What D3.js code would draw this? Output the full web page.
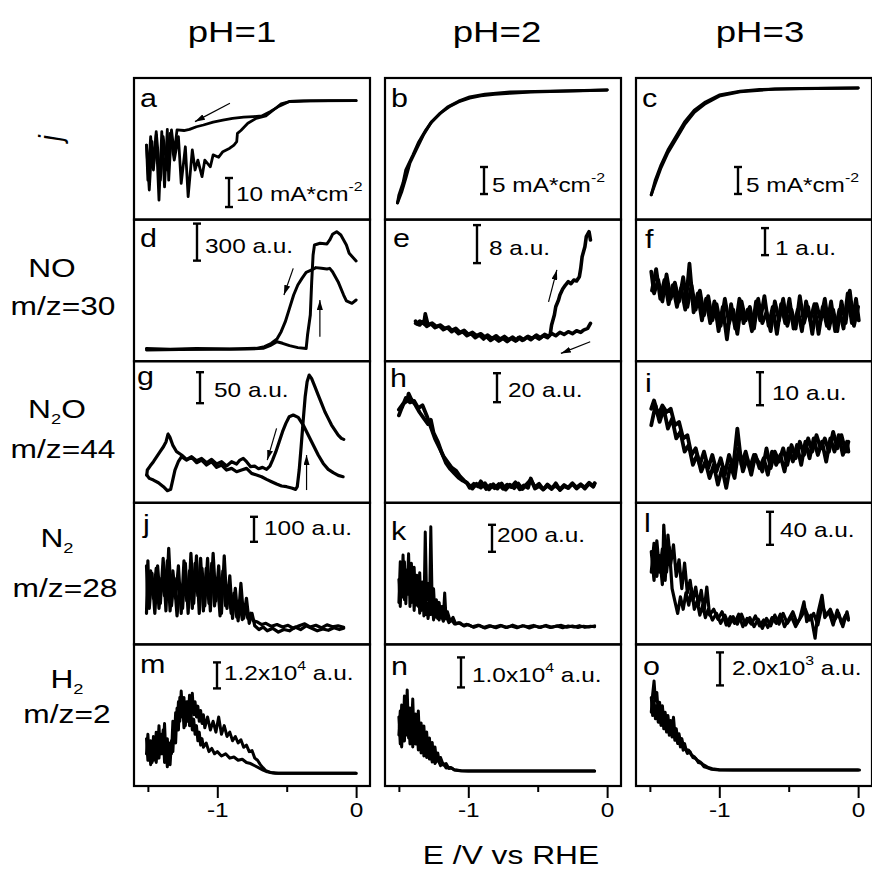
<!DOCTYPE html>
<html><head><meta charset="utf-8">
<script src="https://cdn.jsdelivr.net/npm/d3@7"></script>
<style>html,body{margin:0;padding:0;background:#fff;}svg{display:block;}</style>
</head><body><svg id="chart" width="872" height="870"></svg>
<script>
// ---------------- DATA ----------------
const columnTitles = ["pH=1", "pH=2", "pH=3"];
const rowSpecies = [["NO", ""], ["N", "2", "O"], ["N", "2", ""], ["H", "2", ""]];
const rowMz = ["m/z=30", "m/z=44", "m/z=28", "m/z=2"];
const xTickMajor = [-1, 0];
const xTickMinor = [-1.5, -0.5];
const xTitle = "E /V vs RHE";

// panel a : j (mA cm-2), pH 1
const a_cath = [[0,0],[-0.19,0],[-0.38,-0.1],[-0.48,-0.3],[-0.55,-1.8],[-0.62,-3.8],[-0.68,-5.3],[-0.74,-5.5],[-0.81,-5.7],[-0.89,-6.1],[-0.96,-6.7],[-1.03,-7.4],[-1.10,-8.4],[-1.15,-9.0],[-1.20,-9.9],[-1.24,-10.3],[-1.29,-10.1],[-1.31,-18.2],[-1.33,-10.1],[-1.35,-27.4],[-1.36,-9.9],[-1.38,-29.7],[-1.40,-10.7],[-1.42,-34.3],[-1.44,-11.8],[-1.46,-23.9],[-1.47,-14.1],[-1.49,-30.8],[-1.51,-15.3]];
const a_anod = [[-1.51,-15.3],[-1.50,-27.4],[-1.48,-12.4],[-1.46,-22.8],[-1.44,-10.7],[-1.41,-27.4],[-1.39,-12.4],[-1.36,-23.9],[-1.34,-11.3],[-1.31,-20.5],[-1.28,-12.4],[-1.26,-28.5],[-1.23,-15.9],[-1.21,-33.1],[-1.18,-17.0],[-1.16,-23.9],[-1.14,-20.5],[-1.11,-26.2],[-1.09,-20.5],[-1.05,-22.8],[-1.03,-18.7],[-0.99,-19.5],[-0.96,-17.6],[-0.91,-16.4],[-0.88,-15.3],[-0.86,-14.1],[-0.855,-11.3],[-0.83,-10.3],[-0.78,-7.8],[-0.72,-6.1],[-0.65,-5.3],[-0.60,-3.4],[-0.54,-1.1],[-0.48,-0.3],[-0.33,-0.1],[0,0]];
// panel b : j, pH 2
const b_cath = [[0,0.2],[-0.12,0.1],[-0.27,0],[-0.41,-0.1],[-0.55,-0.2],[-0.70,-0.4],[-0.81,-0.6],[-0.91,-0.9],[-0.99,-1.3],[-1.06,-1.9],[-1.13,-2.8],[-1.20,-4.1],[-1.26,-5.6],[-1.31,-7.4],[-1.36,-9.6],[-1.40,-11.9],[-1.45,-14.6],[-1.47,-17.0],[-1.50,-19.3],[-1.51,-20.7]];
const b_anod = [[-1.51,-20.7],[-1.48,-18.7],[-1.45,-16.1],[-1.42,-13.3],[-1.37,-10.6],[-1.32,-8.0],[-1.27,-5.9],[-1.21,-4.3],[-1.15,-3.0],[-1.07,-1.9],[-0.99,-1.1],[-0.88,-0.6],[-0.70,-0.2],[-0.34,0],[0,0.2]];
// panel c : j, pH 3
const c_cath = [[0,0],[-0.42,-0.1],[-0.71,-0.3],[-0.85,-0.6],[-1.00,-1.3],[-1.10,-2.6],[-1.18,-4.1],[-1.25,-6.3],[-1.31,-8.9],[-1.37,-11.5],[-1.42,-14.3],[-1.46,-17.0],[-1.49,-19.8]];
const c_anod = [[-1.49,-19.8],[-1.46,-17.6],[-1.42,-14.8],[-1.37,-12.0],[-1.31,-9.4],[-1.25,-6.8],[-1.18,-4.5],[-1.10,-2.9],[-1.00,-1.5],[-0.85,-0.7],[-0.60,-0.2],[0,0]];
// panel d : NO m/z=30, pH 1 (a.u.)
const d_cath = [[0,397],[-0.03,370],[-0.07,389],[-0.09,437],[-0.13,545],[-0.17,626],[-0.19,653],[-0.21,648],[-0.25,653],[-0.29,659],[-0.32,640],[-0.36,621],[-0.39,572],[-0.42,518],[-0.45,437],[-0.48,329],[-0.51,221],[-0.54,140],[-0.57,81],[-0.61,46],[-0.66,19],[-0.72,5],[-0.91,0],[-1.15,3],[-1.34,-3],[-1.51,3]];
const d_anod = [[-1.51,-8],[-1.27,-5],[-1.03,-3],[-0.79,0],[-0.67,5],[-0.62,27],[-0.57,59],[-0.53,46],[-0.48,27],[-0.42,11],[-0.36,3],[-0.35,113],[-0.33,275],[-0.32,545],[-0.31,761],[-0.30,842],[-0.26,856],[-0.21,851],[-0.19,883],[-0.17,929],[-0.14,950],[-0.11,923],[-0.07,842],[-0.05,775],[0,713]];
// panel e : NO, pH 2
const e_cath = [[-0.12,2.46],[-0.14,1.40],[-0.17,1.05],[-0.19,0.56],[-0.22,0.91],[-0.25,0.28],[-0.28,0.70],[-0.31,0.14],[-0.34,0.56],[-0.37,-0.14],[-0.40,0.35],[-0.42,-0.28],[-0.45,0.14],[-0.48,-0.56],[-0.51,0],[-0.54,-0.70],[-0.57,-0.28],[-0.60,-0.98],[-0.63,-0.42],[-0.65,-1.12],[-0.68,-0.42],[-0.71,-0.98],[-0.74,-0.28],[-0.77,-0.84],[-0.80,-0.14],[-0.83,-0.70],[-0.86,0],[-0.88,-0.42],[-0.91,0.28],[-0.94,-0.14],[-0.97,0.56],[-1.00,0.14],[-1.03,0.98],[-1.06,0.56],[-1.09,1.40],[-1.12,0.98],[-1.14,1.68],[-1.17,1.40],[-1.20,2.11],[-1.23,1.82],[-1.26,2.53],[-1.29,2.11],[-1.31,4.49],[-1.32,2.39],[-1.35,2.95],[-1.37,2.39],[-1.38,2.95]];
const e_anod = [[-1.38,2.46],[-1.35,2.11],[-1.33,2.81],[-1.30,1.82],[-1.27,2.39],[-1.24,1.54],[-1.21,1.96],[-1.18,1.12],[-1.15,1.54],[-1.12,0.70],[-1.10,1.12],[-1.07,0.28],[-1.04,0.70],[-1.01,-0.14],[-0.98,0.28],[-0.95,-0.56],[-0.92,0],[-0.89,-0.84],[-0.87,-0.28],[-0.84,-1.12],[-0.81,-0.56],[-0.78,-1.26],[-0.75,-0.70],[-0.72,-1.40],[-0.69,-0.70],[-0.66,-1.26],[-0.64,-0.56],[-0.61,-1.12],[-0.58,-0.42],[-0.55,-0.98],[-0.52,-0.28],[-0.49,-0.84],[-0.46,-0.14],[-0.43,-0.56],[-0.41,0.14],[-0.40,2.11],[-0.38,4.21],[-0.37,5.96],[-0.35,7.37],[-0.34,8.42],[-0.32,9.68],[-0.30,10.53],[-0.28,11.23],[-0.26,10.81],[-0.24,11.58],[-0.22,11.37],[-0.20,12.28],[-0.19,14.04],[-0.18,16.49],[-0.16,18.60],[-0.15,20.70],[-0.13,21.75],[-0.12,20.00]];
// panel f : NO, pH 3
const f_cath = [[0,0.3],[-0.03,-0.4],[-0.06,0.9],[-0.09,-0.3],[-0.12,0.5],[-0.15,-0.6],[-0.18,0.2],[-0.21,-0.5],[-0.24,0.6],[-0.27,-0.2],[-0.30,0.4],[-0.33,-0.7],[-0.36,0.3],[-0.39,-0.3],[-0.42,0.7],[-0.45,-0.5],[-0.48,0.2],[-0.51,-0.4],[-0.54,0.6],[-0.57,-0.2],[-0.60,0.5],[-0.63,-0.6],[-0.66,0.1],[-0.69,-0.3],[-0.72,0.6],[-0.75,-0.5],[-0.78,0.3],[-0.81,-0.2],[-0.84,0.5],[-0.87,-0.7],[-0.90,0.2],[-0.93,-0.3],[-0.96,0.6],[-0.99,-0.4],[-1.02,0.4],[-1.05,-0.2],[-1.08,0.7],[-1.11,0.0],[-1.14,0.9],[-1.17,0.2],[-1.20,1.1],[-1.23,0.3],[-1.26,1.4],[-1.29,0.5],[-1.32,1.2],[-1.35,0.6],[-1.38,1.5],[-1.41,0.5],[-1.44,1.3],[-1.47,0.8],[-1.49,1.6]];
const f_anod = [[-1.485,0.9],[-1.455,1.7],[-1.425,0.6],[-1.395,1.3],[-1.365,0.4],[-1.335,1.1],[-1.305,0.3],[-1.275,1.0],[-1.245,0.2],[-1.215,1.9],[-1.185,0.1],[-1.155,0.8],[-1.125,-0.2],[-1.095,0.6],[-1.065,-0.3],[-1.035,0.5],[-1.005,-0.6],[-0.975,0.3],[-0.945,-0.9],[-0.915,0.4],[-0.885,-0.5],[-0.855,0.6],[-0.825,-0.3],[-0.795,0.2],[-0.765,-0.6],[-0.735,0.5],[-0.705,-0.2],[-0.675,0.7],[-0.645,-0.4],[-0.615,0.3],[-0.585,-0.7],[-0.555,0.4],[-0.525,-0.3],[-0.495,0.6],[-0.465,-0.5],[-0.435,0.2],[-0.405,-0.6],[-0.375,0.5],[-0.345,-0.2],[-0.315,0.4],[-0.285,-0.7],[-0.255,0.3],[-0.225,-0.4],[-0.195,0.5],[-0.165,-0.6],[-0.135,0.2],[-0.105,-0.5],[-0.075,0.8],[-0.045,-0.3],[-0.015,0.6],[0.005,-0.2]];
// panel g : N2O m/z=44, pH 1
const g_cath = [[-0.094,21.5],[-0.129,23.7],[-0.165,28.0],[-0.201,33.4],[-0.237,43.0],[-0.273,56.5],[-0.309,72.6],[-0.345,88.8],[-0.381,104.9],[-0.417,117.3],[-0.453,121.1],[-0.482,118.4],[-0.506,107.6],[-0.530,94.2],[-0.554,78.0],[-0.578,61.9],[-0.602,48.4],[-0.621,38.7],[-0.645,33.4],[-0.674,36.6],[-0.703,34.4],[-0.731,38.7],[-0.760,37.7],[-0.789,45.7],[-0.813,51.1],[-0.837,48.4],[-0.861,42.0],[-0.897,45.7],[-0.933,38.7],[-0.969,45.7],[-1.005,42.0],[-1.041,49.5],[-1.077,44.1],[-1.113,51.1],[-1.149,47.3],[-1.185,53.8],[-1.221,49.5],[-1.257,56.5],[-1.293,61.9],[-1.321,72.6],[-1.341,85.0],[-1.355,90.4],[-1.369,78.0],[-1.388,69.9],[-1.412,61.9],[-1.436,53.8],[-1.460,45.7],[-1.484,38.7],[-1.504,32.3],[-1.508,24.2]];
const g_anod = [[-1.508,24.2],[-1.489,18.8],[-1.460,16.1],[-1.424,11.8],[-1.388,5.4],[-1.360,-1.1],[-1.336,1.1],[-1.321,16.1],[-1.305,32.3],[-1.281,45.7],[-1.257,53.8],[-1.221,48.4],[-1.185,52.7],[-1.149,44.1],[-1.113,48.4],[-1.077,40.4],[-1.041,45.7],[-1.005,36.6],[-0.969,40.4],[-0.933,32.3],[-0.897,35.0],[-0.861,29.6],[-0.825,32.3],[-0.789,35.0],[-0.753,26.9],[-0.717,24.2],[-0.681,21.5],[-0.645,17.2],[-0.609,13.5],[-0.573,9.7],[-0.537,6.5],[-0.501,5.4],[-0.465,3.2],[-0.436,1.1],[-0.424,5.4],[-0.410,32.3],[-0.396,69.9],[-0.381,113.0],[-0.367,150.6],[-0.353,174.9],[-0.338,185.6],[-0.321,180.2],[-0.297,166.8],[-0.273,153.3],[-0.249,139.9],[-0.225,126.4],[-0.201,115.7],[-0.177,104.9],[-0.153,96.8],[-0.129,88.8],[-0.106,83.4],[-0.089,81.8]];
// panel h : N2O, pH 2
const h_cath = [[-1.50,52],[-1.47,56],[-1.44,58],[-1.43,63],[-1.41,59],[-1.38,55],[-1.35,50],[-1.32,46],[-1.29,42],[-1.27,45],[-1.25,36],[-1.22,30],[-1.19,22],[-1.16,15],[-1.13,11],[-1.10,8],[-1.07,5],[-1.04,3],[-1.01,1.5],[-0.99,-2.0],[-0.96,0.8],[-0.93,-1.0],[-0.91,2.5],[-0.87,-2.8],[-0.84,0.0],[-0.81,-2.2],[-0.78,0.6],[-0.75,-2.6],[-0.72,0.2],[-0.69,-1.5],[-0.66,1.8],[-0.63,-3.0],[-0.60,-0.3],[-0.57,-2.0],[-0.55,4.5],[-0.52,-2.5],[-0.49,-0.8],[-0.46,-3.2],[-0.43,0.3],[-0.40,-2.2],[-0.37,-0.5],[-0.34,-3.0],[-0.31,0.0],[-0.28,-2.0],[-0.25,1.2],[-0.22,-1.8],[-0.19,0.5],[-0.16,-2.5],[-0.13,1.0],[-0.10,-1.2],[-0.09,1.0]];
const h_anod = [[-1.50,48],[-1.48,53],[-1.45,60],[-1.42,57],[-1.39,58],[-1.36,53],[-1.33,55],[-1.30,48],[-1.27,40],[-1.24,32],[-1.21,26],[-1.18,20],[-1.15,16],[-1.12,12],[-1.09,10],[-1.06,6],[-1.03,3],[-1.00,0.5],[-0.97,-2.5],[-0.94,0.8],[-0.91,-1.8],[-0.88,1.2],[-0.85,-3.0],[-0.82,0.5],[-0.79,-2.5],[-0.76,1.0],[-0.73,-3.2],[-0.70,0.2],[-0.67,-2.2],[-0.64,1.0],[-0.61,-2.8],[-0.58,0.4],[-0.55,3.5],[-0.52,-1.5],[-0.49,0.8],[-0.46,-3.0],[-0.43,-0.5],[-0.40,-2.8],[-0.37,1.2],[-0.34,-3.5],[-0.31,-0.8],[-0.28,-2.0],[-0.25,0.9],[-0.22,-2.5],[-0.19,0.0],[-0.16,-1.6],[-0.13,1.5],[-0.10,-0.8],[-0.09,1.2]];
// panel i : N2O, pH 3
const i_cath = [[-1.49,9],[-1.46,15],[-1.43,10],[-1.40,14],[-1.37,8],[-1.34,11],[-1.31,5],[-1.28,7],[-1.25,1],[-1.22,3],[-1.19,-3],[-1.16,0],[-1.13,-5],[-1.10,-2],[-1.07,-7],[-1.04,-3],[-1.01,-9],[-0.98,-4],[-0.95,-10],[-0.92,-3],[-0.89,-7],[-0.86,2],[-0.83,-5],[-0.80,-1],[-0.77,-6],[-0.74,0],[-0.71,-4],[-0.68,-1],[-0.65,-6],[-0.62,1],[-0.59,-3],[-0.56,0],[-0.53,-5],[-0.50,2],[-0.47,-2],[-0.44,3],[-0.41,-3],[-0.38,4],[-0.35,-1],[-0.32,5],[-0.29,0],[-0.26,4],[-0.23,-2],[-0.20,5],[-0.17,1],[-0.14,6],[-0.11,0],[-0.08,4],[-0.07,1]];
const i_anod = [[-1.49,14],[-1.47,16.5],[-1.44,12],[-1.41,15],[-1.38,13],[-1.35,14],[-1.32,9],[-1.29,10],[-1.26,5],[-1.23,6],[-1.20,0],[-1.17,2],[-1.14,-3],[-1.11,1],[-1.08,-4],[-1.05,0],[-1.02,-5],[-0.99,-1],[-0.96,-6],[-0.93,0],[-0.90,-4],[-0.87,8],[-0.84,-3],[-0.81,1],[-0.78,-4],[-0.75,0],[-0.72,-2],[-0.69,-5],[-0.66,2],[-0.63,-4],[-0.60,1],[-0.57,-2],[-0.54,2],[-0.51,-3],[-0.48,3],[-0.45,-1],[-0.42,4],[-0.39,0],[-0.36,5],[-0.33,1],[-0.30,6],[-0.27,2],[-0.24,5],[-0.21,1],[-0.18,7],[-0.15,2],[-0.12,6],[-0.09,1],[-0.07,4]];
// panel j : N2 m/z=28, pH 1
const j_cath = [[-1.51,60],[-1.50,270],[-1.49,80],[-1.47,220],[-1.45,60],[-1.43,250],[-1.41,100],[-1.39,280],[-1.37,70],[-1.35,320],[-1.33,90],[-1.31,200],[-1.29,50],[-1.27,180],[-1.25,80],[-1.23,260],[-1.21,60],[-1.19,300],[-1.17,100],[-1.15,290],[-1.13,60],[-1.11,240],[-1.09,90],[-1.07,280],[-1.05,70],[-1.03,300],[-1.01,110],[-0.99,250],[-0.97,60],[-0.95,290],[-0.93,80],[-0.91,210],[-0.89,40],[-0.87,160],[-0.85,30],[-0.83,180],[-0.81,40],[-0.79,120],[-0.77,20],[-0.75,60],[-0.73,10],[-0.70,-5],[-0.67,5],[-0.64,-10],[-0.60,0],[-0.56,-15],[-0.52,-5],[-0.48,-10],[-0.44,5],[-0.40,-5],[-0.36,10],[-0.32,0],[-0.28,-10],[-0.24,-3],[-0.20,-8],[-0.16,2],[-0.12,-5],[-0.09,0]];
const j_anod = [[-1.51,250],[-1.50,100],[-1.48,230],[-1.46,120],[-1.44,240],[-1.42,80],[-1.40,200],[-1.38,130],[-1.36,270],[-1.34,70],[-1.32,230],[-1.30,120],[-1.28,250],[-1.26,60],[-1.24,270],[-1.22,110],[-1.20,230],[-1.18,80],[-1.16,260],[-1.14,130],[-1.12,280],[-1.10,70],[-1.08,240],[-1.06,100],[-1.04,260],[-1.02,90],[-1.00,200],[-0.98,50],[-0.96,230],[-0.94,90],[-0.92,170],[-0.90,60],[-0.88,140],[-0.86,45],[-0.84,110],[-0.82,35],[-0.80,80],[-0.78,40],[-0.76,60],[-0.74,30],[-0.71,25],[-0.68,15],[-0.65,20],[-0.61,8],[-0.57,15],[-0.53,5],[-0.49,12],[-0.45,0],[-0.41,10],[-0.37,18],[-0.33,5],[-0.29,12],[-0.25,2],[-0.21,14],[-0.17,6],[-0.13,10],[-0.09,4]];
// panel k : N2, pH 2
const k_cath = [[-1.50,180],[-1.49,480],[-1.48,250],[-1.47,530],[-1.46,200],[-1.45,420],[-1.44,300],[-1.43,540],[-1.42,150],[-1.41,470],[-1.40,260],[-1.39,440],[-1.38,200],[-1.37,380],[-1.36,150],[-1.35,400],[-1.34,120],[-1.33,330],[-1.32,80],[-1.31,700],[-1.30,200],[-1.29,320],[-1.28,100],[-1.27,740],[-1.26,150],[-1.25,280],[-1.24,80],[-1.23,200],[-1.22,60],[-1.21,180],[-1.20,90],[-1.19,150],[-1.18,70],[-1.17,250],[-1.16,60],[-1.15,110],[-1.13,40],[-1.11,70],[-1.09,20],[-1.06,30],[-1.03,5],[-1.00,15],[-0.96,-5],[-0.92,10],[-0.88,-10],[-0.84,5],[-0.80,-8],[-0.76,8],[-0.72,-5],[-0.68,12],[-0.64,-3],[-0.60,6],[-0.56,-10],[-0.52,4],[-0.48,-6],[-0.44,10],[-0.40,-4],[-0.36,5],[-0.32,-8],[-0.28,6],[-0.24,-3],[-0.20,8],[-0.16,-5],[-0.12,4],[-0.09,0]];
const k_anod = [[-1.50,350],[-1.49,150],[-1.48,420],[-1.47,220],[-1.46,480],[-1.45,170],[-1.44,390],[-1.43,240],[-1.42,460],[-1.41,180],[-1.40,350],[-1.39,120],[-1.38,300],[-1.37,160],[-1.36,330],[-1.35,100],[-1.34,260],[-1.33,140],[-1.32,220],[-1.31,90],[-1.30,180],[-1.29,60],[-1.28,130],[-1.27,90],[-1.26,170],[-1.25,50],[-1.24,140],[-1.23,70],[-1.22,120],[-1.21,50],[-1.20,100],[-1.18,40],[-1.16,80],[-1.14,30],[-1.12,50],[-1.10,20],[-1.07,30],[-1.04,10],[-1.01,18],[-0.97,0],[-0.93,12],[-0.89,-5],[-0.85,8],[-0.81,-2],[-0.77,10],[-0.73,-6],[-0.69,4],[-0.65,-8],[-0.61,8],[-0.57,0],[-0.53,10],[-0.49,-4],[-0.45,6],[-0.41,-6],[-0.37,3],[-0.33,10],[-0.29,-4],[-0.25,5],[-0.21,-6],[-0.17,4],[-0.13,-2],[-0.09,6]];
// panel l : N2, pH 3
const l_cath = [[-1.49,60],[-1.47,95],[-1.45,55],[-1.43,80],[-1.41,45],[-1.40,117],[-1.38,60],[-1.36,90],[-1.34,40],[-1.32,25],[-1.30,10],[-1.28,30],[-1.26,15],[-1.24,35],[-1.22,20],[-1.20,40],[-1.18,15],[-1.16,25],[-1.14,8],[-1.12,20],[-1.10,5],[-1.08,15],[-1.05,2],[-1.02,10],[-0.99,-2],[-0.96,8],[-0.93,-5],[-0.90,6],[-0.87,-3],[-0.84,9],[-0.81,-4],[-0.78,5],[-0.75,-6],[-0.72,3],[-0.69,-8],[-0.66,4],[-0.63,-5],[-0.60,8],[-0.57,-3],[-0.54,10],[-0.51,-2],[-0.48,6],[-0.45,-6],[-0.42,4],[-0.39,24],[-0.37,0],[-0.34,8],[-0.31,-20],[-0.29,10],[-0.26,32],[-0.24,5],[-0.21,12],[-0.18,-4],[-0.15,14],[-0.12,-2],[-0.09,8],[-0.07,2]];
const l_anod = [[-1.49,85],[-1.47,50],[-1.45,98],[-1.43,60],[-1.41,88],[-1.39,50],[-1.37,105],[-1.35,70],[-1.33,93],[-1.31,55],[-1.29,75],[-1.27,40],[-1.25,71],[-1.23,35],[-1.21,50],[-1.19,25],[-1.17,42],[-1.15,20],[-1.13,38],[-1.11,12],[-1.09,42],[-1.07,8],[-1.04,15],[-1.01,3],[-0.98,12],[-0.95,-4],[-0.92,6],[-0.89,-2],[-0.86,9],[-0.83,-6],[-0.80,4],[-0.77,-3],[-0.74,7],[-0.71,-5],[-0.68,2],[-0.65,-7],[-0.62,5],[-0.59,-2],[-0.56,9],[-0.53,-6],[-0.50,3],[-0.47,12],[-0.44,-2],[-0.41,6],[-0.38,15],[-0.35,2],[-0.32,10],[-0.29,-4],[-0.26,20],[-0.23,8],[-0.20,15],[-0.17,2],[-0.14,10],[-0.11,-6],[-0.08,12],[-0.07,4]];
// panel m : H2 m/z=2, pH 1
const m_cath = [[-1.51,9000],[-1.50,18000],[-1.49,7000],[-1.48,15000],[-1.47,5000],[-1.46,17000],[-1.45,8000],[-1.44,19000],[-1.43,11000],[-1.42,22000],[-1.41,9000],[-1.40,18000],[-1.39,12000],[-1.38,23000],[-1.37,8000],[-1.36,16000],[-1.35,6000],[-1.34,14000],[-1.33,9000],[-1.32,24000],[-1.31,15000],[-1.30,28000],[-1.29,20000],[-1.28,33000],[-1.27,24000],[-1.26,38000],[-1.25,27000],[-1.24,35000],[-1.23,22000],[-1.22,33000],[-1.21,25000],[-1.20,36000],[-1.19,28000],[-1.18,37000],[-1.17,27000],[-1.16,33000],[-1.15,26000],[-1.14,31000],[-1.13,24000],[-1.12,29000],[-1.11,23000],[-1.10,27000],[-1.09,21000],[-1.07,26000],[-1.05,20000],[-1.03,24000],[-1.01,19000],[-0.99,26000],[-0.97,18000],[-0.95,22000],[-0.93,17000],[-0.91,19000],[-0.89,15000],[-0.87,17000],[-0.85,14000],[-0.83,15500],[-0.81,12000],[-0.79,13000],[-0.77,10000],[-0.75,10500],[-0.73,7000],[-0.71,6000],[-0.69,4000],[-0.67,2500],[-0.65,1200],[-0.62,400],[-0.58,0],[-0.50,0],[-0.30,0],[0,0]];
const m_anod = [[-1.51,16000],[-1.50,6000],[-1.49,14000],[-1.48,4000],[-1.47,12000],[-1.46,6000],[-1.45,15000],[-1.44,5000],[-1.43,13000],[-1.42,7000],[-1.41,17000],[-1.40,9000],[-1.39,20000],[-1.38,5000],[-1.37,12000],[-1.36,3000],[-1.35,10000],[-1.34,4000],[-1.33,15000],[-1.32,10000],[-1.31,22000],[-1.30,14000],[-1.29,30000],[-1.28,20000],[-1.27,35000],[-1.26,26000],[-1.25,32000],[-1.24,21000],[-1.23,30000],[-1.22,24000],[-1.21,33000],[-1.20,22000],[-1.19,28000],[-1.18,20000],[-1.17,25000],[-1.16,18000],[-1.15,22000],[-1.14,15000],[-1.13,19000],[-1.12,13000],[-1.11,16000],[-1.10,12000],[-1.08,14000],[-1.06,10000],[-1.04,11500],[-1.02,9000],[-1.00,10000],[-0.97,8000],[-0.94,9000],[-0.91,7000],[-0.88,7500],[-0.85,6000],[-0.82,6500],[-0.79,5000],[-0.76,4500],[-0.73,3500],[-0.70,2500],[-0.67,1500],[-0.64,700],[-0.60,200],[-0.56,0],[-0.40,0],[0,0]];
// panel n : H2, pH 2
const n_cath = [[-1.50,18000],[-1.49,9000],[-1.48,22000],[-1.47,12000],[-1.46,25000],[-1.45,14000],[-1.44,27000],[-1.43,11000],[-1.42,21000],[-1.41,13000],[-1.40,24000],[-1.39,10000],[-1.38,19000],[-1.37,12000],[-1.36,20000],[-1.35,9000],[-1.34,16000],[-1.33,8000],[-1.32,15000],[-1.31,7000],[-1.30,13000],[-1.29,6000],[-1.28,11000],[-1.27,5000],[-1.26,9500],[-1.25,4000],[-1.24,8000],[-1.23,3500],[-1.22,6000],[-1.21,3000],[-1.20,4500],[-1.18,2000],[-1.16,2500],[-1.14,800],[-1.12,1000],[-1.10,300],[-1.06,100],[-1.00,0],[-0.50,0],[-0.09,0]];
const n_anod = [[-1.50,12000],[-1.49,20000],[-1.48,8000],[-1.47,17000],[-1.46,10000],[-1.45,22000],[-1.44,12000],[-1.43,19000],[-1.42,9000],[-1.41,18000],[-1.40,8000],[-1.39,16000],[-1.38,9000],[-1.37,15000],[-1.36,7000],[-1.35,14000],[-1.34,6000],[-1.33,12000],[-1.32,5000],[-1.31,10000],[-1.30,4500],[-1.29,8000],[-1.28,4000],[-1.27,7000],[-1.26,3000],[-1.25,5500],[-1.24,2500],[-1.22,4000],[-1.20,1800],[-1.18,2500],[-1.16,1000],[-1.13,1200],[-1.10,400],[-1.05,100],[-1.00,0],[-0.50,0],[-0.09,0]];
// panel o : H2, pH 3
const o_cath = [[-1.49,3500],[-1.48,4600],[-1.47,5400],[-1.46,4200],[-1.45,4700],[-1.44,3500],[-1.43,4100],[-1.42,3200],[-1.41,3900],[-1.40,3000],[-1.39,3500],[-1.38,2700],[-1.37,3300],[-1.36,2500],[-1.35,3000],[-1.34,2400],[-1.33,3200],[-1.32,2200],[-1.31,2500],[-1.30,1900],[-1.29,2200],[-1.28,1700],[-1.27,1900],[-1.26,1500],[-1.25,1600],[-1.24,1250],[-1.22,1200],[-1.20,900],[-1.18,800],[-1.16,600],[-1.14,500],[-1.12,350],[-1.10,250],[-1.08,150],[-1.05,80],[-1.00,20],[-0.90,0],[-0.50,0],[0,0]];
const o_anod = [[-1.49,4400],[-1.48,3300],[-1.47,4200],[-1.46,3100],[-1.45,3900],[-1.44,2900],[-1.43,3600],[-1.42,2700],[-1.41,3400],[-1.40,2500],[-1.39,3100],[-1.38,2300],[-1.37,2900],[-1.36,2100],[-1.35,2600],[-1.34,2000],[-1.33,2400],[-1.32,1800],[-1.31,2100],[-1.30,1600],[-1.29,1900],[-1.28,1400],[-1.27,1700],[-1.26,1200],[-1.25,1400],[-1.23,1000],[-1.21,1100],[-1.19,750],[-1.17,700],[-1.15,450],[-1.13,400],[-1.11,200],[-1.09,150],[-1.06,50],[-1.00,0],[-0.50,0],[0.01,0]];

// scan-direction arrows: [tail, head] in data units
const a_arrows = [[[-0.909,-0.92],[-1.161,-7.24]]];
const d_arrows = [[[-0.453,653],[-0.520,437]], [[-0.261,100],[-0.261,397]]];
const e_arrows = [[[-0.422,7.0],[-0.362,13.7]], [[-0.122,-1.40],[-0.333,-3.86]]];
const g_arrows = [[[-0.573,99.5],[-0.640,48.4]], [[-0.357,0],[-0.357,56.5]]];

// scale bars: value, label main / superscript / tail
const barValues = {a:10,b:5,c:5,d:300,e:8,f:1,g:50,h:20,i:10,j:100,k:200,l:40,m:12000,n:10000,o:2000};
const barLabels = {
  a:["10 mA*cm","-2",""], b:["5 mA*cm","-2",""], c:["5 mA*cm","-2",""],
  d:["300 a.u.","",""], e:["8 a.u.","",""], f:["1 a.u.","",""],
  g:["50 a.u.","",""], h:["20 a.u.","",""], i:["10 a.u.","",""],
  j:["100 a.u.","",""], k:["200 a.u.","",""], l:["40 a.u.","",""],
  m:["1.2x10","4"," a.u."], n:["1.0x10","4"," a.u."], o:["2.0x10","3"," a.u."]
};

// ---------------- LAYOUT ----------------
const W = 872, H = 870;
const SX = 1.22; // horizontal stretch of the original figure's text
const FONT = "'Liberation Sans', Arial, Helvetica, sans-serif";
const colLeft = [134, 385, 636], panelW = 236;
const rowTop = [78, 219.6, 361.2, 502.8, 644.4], panelH = 141.6;
const xDomain = [-1.6, 0.1];

const panels = [
 {id:"a",col:0,row:0,yDomain:[-41,7.8],traces:[a_cath,a_anod],arrows:a_arrows,bar:[95,100,7,23],letter:[6,29],lw:2.8},
 {id:"b",col:1,row:0,yDomain:[-23.8,2.4],traces:[b_cath,b_anod],arrows:[],bar:[99,89,8,25],letter:[6,29],lw:3},
 {id:"c",col:2,row:0,yDomain:[-24.4,1.85],traces:[c_cath,c_anod],arrows:[],bar:[102,89,8,25],letter:[6,29],lw:3},
 {id:"d",col:0,row:1,yDomain:[-99,1048],traces:[d_cath,d_anod],arrows:d_arrows,bar:[63,4,8,29],letter:[6,27],lw:3},
 {id:"e",col:1,row:1,yDomain:[-5.5,24.3],traces:[e_cath,e_anod],arrows:e_arrows,bar:[92,5.5,12,30],letter:[8,27],lw:3.6},
 {id:"f",col:2,row:1,yDomain:[-1.71,3.53],traces:[f_cath,f_anod],arrows:[],bar:[129,8.5,10,27],letter:[9,28],lw:3.8},
 {id:"g",col:0,row:2,yDomain:[-20.6,208],traces:[g_cath,g_anod],arrows:g_arrows,bar:[66,11,14,25],letter:[3,24],lw:3.2},
 {id:"h",col:1,row:2,yDomain:[-12.3,85.4],traces:[h_cath,h_anod],arrows:[],bar:[112,12,11,24],letter:[5,26],lw:3.8},
 {id:"i",col:2,row:2,yDomain:[-14.5,28.4],traces:[i_cath,i_anod],arrows:[],bar:[124,11,12,28],letter:[9,31],lw:3.8},
 {id:"j",col:0,row:3,yDomain:[-64.4,502],traces:[j_cath,j_anod],arrows:[],bar:[120,14,10,18],letter:[9,30],lw:3.2},
 {id:"k",col:1,row:3,yDomain:[-131,917],traces:[k_cath,k_anod],arrows:[],bar:[107,22,5,17],letter:[6,37],lw:3},
 {id:"l",col:2,row:3,yDomain:[-27.5,144],traces:[l_cath,l_anod],arrows:[],bar:[134,9,10,25],letter:[8,29],lw:3.2},
 {id:"m",col:0,row:4,yDomain:[-5861,59490],traces:[m_cath,m_anod],arrows:[],bar:[83,18,7,18],letter:[6,29],lw:3},
 {id:"n",col:1,row:4,yDomain:[-5000,42160],traces:[n_cath,n_anod],arrows:[],bar:[76,13,11,25],letter:[6,31],lw:3},
 {id:"o",col:2,row:4,yDomain:[-970,7611],traces:[o_cath,o_anod],arrows:[],bar:[84,8,12,23],letter:[7,31],lw:3}
];

// ---------------- DRAW ----------------
const svg = d3.select("#chart").attr("font-family", FONT);
svg.append("rect").attr("width", W).attr("height", H).attr("fill", "#fff");
const defs = svg.append("defs");
defs.append("marker").attr("id","ah").attr("viewBox","0 0 10 6")
  .attr("refX",10).attr("refY",3).attr("markerWidth",10).attr("markerHeight",6)
  .attr("markerUnits","userSpaceOnUse").attr("orient","auto")
  .append("path").attr("d","M0,0L10,3L0,6Z").attr("fill","#000");

function sText(parent, x, y, size, anchor) {
  return parent.append("text")
    .attr("transform", `translate(${x},${y}) scale(${SX},1)`)
    .attr("font-size", size).attr("text-anchor", anchor || "start").attr("fill", "#000");
}

panels.forEach(p => {
  const x0 = colLeft[p.col], y0 = rowTop[p.row];
  const g = svg.append("g").attr("transform", `translate(${x0},${y0})`);
  const x = d3.scaleLinear().domain(xDomain).range([0, panelW]);
  const y = d3.scaleLinear().domain(p.yDomain).range([panelH, 0]);
  defs.append("clipPath").attr("id", "clip-" + p.id)
    .append("rect").attr("x", 1).attr("y", 1).attr("width", panelW - 2).attr("height", panelH - 2);
  const line = d3.line().x(d => x(d[0])).y(d => y(d[1]));
  const plot = g.append("g").attr("clip-path", `url(#clip-${p.id})`);
  p.traces.forEach(t => {
    plot.append("path").attr("d", line(t)).attr("fill", "none")
      .attr("stroke", "#000").attr("stroke-width", p.lw)
      .attr("stroke-linejoin", "round").attr("stroke-linecap", "round");
  });
  p.arrows.forEach(a => {
    g.append("line").attr("x1", x(a[0][0])).attr("y1", y(a[0][1]))
      .attr("x2", x(a[1][0])).attr("y2", y(a[1][1]))
      .attr("stroke", "#000").attr("stroke-width", 1.2).attr("marker-end", "url(#ah)");
  });
  g.append("rect").attr("width", panelW).attr("height", panelH)
    .attr("fill", "none").attr("stroke", "#000").attr("stroke-width", 2.2);
  sText(g, p.letter[0], p.letter[1], 25).text(p.id);

  // scale bar
  const len = Math.abs(y(0) - y(barValues[p.id]));
  const bx = p.bar[0], by = p.bar[1];
  const sb = g.append("g").attr("stroke", "#000").attr("stroke-width", 2.4);
  sb.append("line").attr("x1", bx).attr("x2", bx).attr("y1", by).attr("y2", by + len);
  sb.append("line").attr("x1", bx - 4).attr("x2", bx + 4).attr("y1", by).attr("y2", by);
  sb.append("line").attr("x1", bx - 4).attr("x2", bx + 4).attr("y1", by + len).attr("y2", by + len);
  const lab = barLabels[p.id];
  const t = sText(g, bx + p.bar[2], by + p.bar[3], 20);
  t.append("tspan").text(lab[0]);
  if (lab[1]) t.append("tspan").attr("font-size", 13).attr("dy", -10).text(lab[1]);
  if (lab[2]) t.append("tspan").attr("dy", 10).text(lab[2]);

  if (p.row === 4) {
    const ax = g.append("g").attr("transform", `translate(0,${panelH})`);
    ax.call(d3.axisBottom(x).tickValues(xTickMajor).tickSize(12).tickPadding(5).tickFormat(d => String(d)));
    ax.select(".domain").remove();
    ax.selectAll(".tick line").attr("stroke-width", 2);
    ax.selectAll(".tick text").attr("font-size", 20).attr("font-family", FONT).attr("fill", "#000")
      .attr("transform", `scale(${SX},1)`);
    const mi = g.append("g").attr("transform", `translate(0,${panelH})`);
    mi.call(d3.axisBottom(x).tickValues(xTickMinor).tickSize(6).tickFormat(""));
    mi.select(".domain").remove();
    mi.selectAll(".tick line").attr("stroke-width", 2);
  }
});

// column titles
const headerX = [232, 497, 760];
columnTitles.forEach((c, i) => sText(svg, headerX[i], 42, 30, "middle").text(c));

// row labels
svg.append("text").attr("transform", `translate(61,141) scale(${SX},1) rotate(-90)`)
  .attr("font-size", 26).attr("font-style", "italic").attr("fill", "#000").text("j");
const speciesPos = [[52, 277], [57, 418], [57, 547], [67, 688]];
const mzPos = [[63, 315], [63, 458], [65, 597], [67, 723]];
rowSpecies.forEach((s, i) => {
  const t = sText(svg, speciesPos[i][0], speciesPos[i][1], 26, "middle");
  t.append("tspan").text(s[0]);
  if (s[1]) {
    t.append("tspan").attr("font-size", 15).attr("dy", 6).text(s[1]);
    if (s[2]) t.append("tspan").attr("dy", -6).text(s[2]);
  }
  sText(svg, mzPos[i][0], mzPos[i][1], 26, "middle").text(rowMz[i]);
});

// x axis title
sText(svg, 511, 864, 26, "middle").text(xTitle);
</script></body></html>
